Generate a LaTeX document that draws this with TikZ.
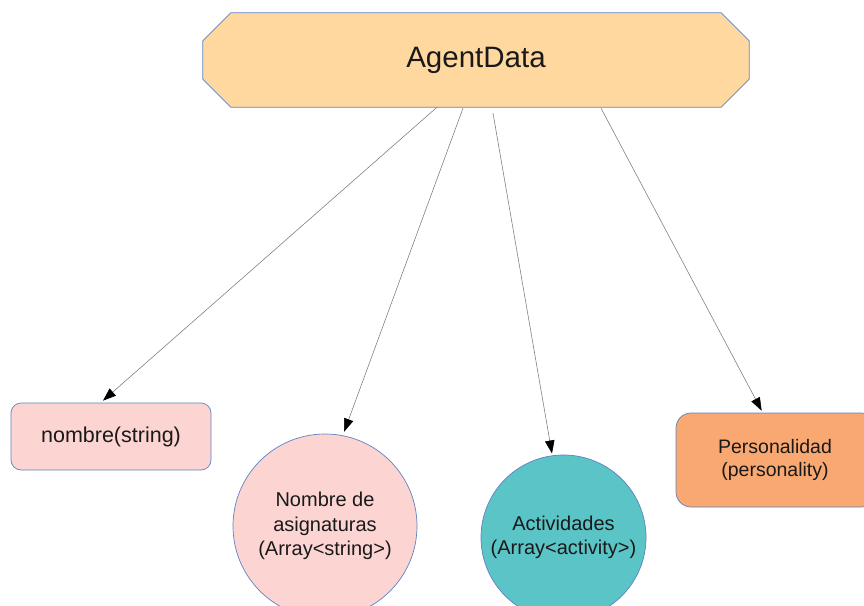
\documentclass[tikz,border=0pt]{standalone}
\usepackage{fontspec}
\setmainfont{Liberation Sans}
\usetikzlibrary{arrows.meta}
\definecolor{edgeblue}{HTML}{5F82C4}
\definecolor{peach}{HTML}{FFD89F}
\definecolor{rosefill}{HTML}{FCD5D3}
\definecolor{tealfill}{HTML}{5BC4C6}
\definecolor{orangefill}{HTML}{F8A870}
\definecolor{linkgray}{HTML}{7A7A7A}
\tikzset{
  boxtext/.style={font=\fontsize{20}{24.5}\selectfont, align=center, text=black!90},
  field/.style={boxtext, draw=edgeblue, line width=0.7pt},
  link/.style={draw=linkgray, line width=0.55pt,
    -{Triangle[length=13pt,width=9.5pt,fill=black,color=black]}},
}
\begin{document}
\begin{tikzpicture}[x=1pt,y=-1pt]
\clip (0,0) rectangle (864,605);
\fill[white] (0,0) rectangle (864,605);

% root record, drawn as a chamfered box around an invisible node
\node[minimum width=546pt, minimum height=94pt, inner sep=0pt] (agent) at (476,60) {};
\draw[fill=peach, draw=edgeblue, line width=0.7pt]
  ([xshift=28pt]agent.north west) -- ([xshift=-28pt]agent.north east)
  -- ([yshift=-28pt]agent.north east) -- ([yshift=28pt]agent.south east)
  -- ([xshift=-28pt]agent.south east) -- ([xshift=28pt]agent.south west)
  -- ([yshift=28pt]agent.south west) -- ([yshift=-28pt]agent.north west) -- cycle;
\node[font=\fontsize{29.5}{34}\selectfont, text=black!90] (agentlabel) at (agent.center) {AgentData};

% fields
\node[field, fill=rosefill, rounded corners=10pt, minimum width=200pt, minimum height=67pt,
  inner sep=0pt, font=\fontsize{21.5}{25}\selectfont] (nombre) at (111,436.5) {nombre(string)};
\node[field, circle, fill=rosefill, minimum size=184pt, inner sep=0pt] (asig) at (325,526)
  {Nombre de\\asignaturas\\(Array<string>)};
\node[field, circle, fill=tealfill, minimum size=165pt, inner sep=0pt] (activ) at (563.5,537.5)
  {Actividades\\(Array<activity>)};
\node[field, fill=orangefill, rounded corners=15pt, minimum width=200pt, minimum height=94pt,
  inner sep=0pt] (perso) at (776,460) {};
\node[boxtext, font=\fontsize{19.5}{22.5}\selectfont] (persotext) at (775,460)
  {Personalidad\\(personality)};

% links from the root to each field
\draw[link] ([xshift=-39pt]agent.south) -- ([xshift=-8pt,yshift=2pt]nombre.north);
\draw[link] ([xshift=-13pt,yshift=-1pt]agent.south) -- ([yshift=4pt]asig.78);
\draw[link] ([xshift=17pt,yshift=-6pt]agent.south) -- ([yshift=2pt]activ.98);
\draw[link] ([xshift=125pt,yshift=-1pt]agent.south) -- ([xshift=86pt,yshift=2pt]perso.north west);
\end{tikzpicture}
\end{document}
